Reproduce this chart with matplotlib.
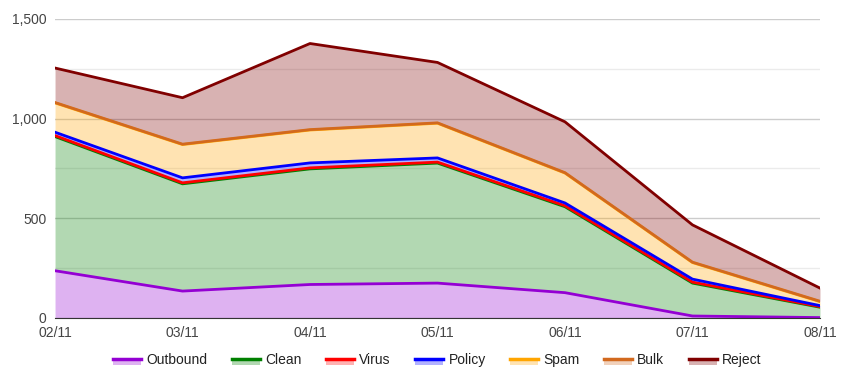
import numpy as np
import matplotlib.pyplot as plt
from matplotlib.legend_handler import HandlerBase
from matplotlib.patches import Rectangle
from matplotlib.lines import Line2D
from matplotlib.ticker import FuncFormatter, MultipleLocator

plt.rcParams['font.family'] = ['Liberation Sans', 'DejaVu Sans']

dates = ['02/11', '03/11', '04/11', '05/11', '06/11', '07/11', '08/11']
series_names = ['Outbound', 'Clean', 'Virus', 'Policy', 'Spam', 'Bulk', 'Reject']
outbound = [237, 135, 168, 175, 127, 10, 2]
clean = [673, 538, 580, 602, 431, 165, 52]
virus = [5, 5, 5, 5, 5, 5, 3]
policy = [17, 25, 25, 21, 14, 15, 5]
spam = [147, 167, 165, 174, 150, 83, 20]
bulk = [2, 2, 2, 2, 2, 2, 2]
reject = [173, 233, 432, 303, 255, 187, 66]
colors = ['#9400D3', '#008000', '#FF0000', '#0000FF', '#FFA500', '#D2691E', '#800000']


class AreaHandler(HandlerBase):
    # legend swatch: light fill with a thick line on top
    def create_artists(self, legend, orig, xd, yd, w, h, fs, trans):
        c = orig.get_color()
        rect = Rectangle((xd, yd - h * 0.1), w, h * 0.6, facecolor=c, alpha=0.3,
                         edgecolor='none', transform=trans)
        line = Line2D([xd, xd + w], [yd + h * 0.5, yd + h * 0.5], color=c,
                      lw=2.5, transform=trans)
        return [rect, line]


fig = plt.figure(figsize=(8.52, 3.76), dpi=100)
ax = fig.add_axes([0.0646, 0.1543, 0.8978, 0.7952])

data = np.array([outbound, clean, virus, policy, spam, bulk, reject])
tops = np.cumsum(data, axis=0)
x = np.arange(len(dates))

bottom = np.zeros(len(dates))
for i in range(len(series_names)):
    ax.fill_between(x, bottom, tops[i], color=colors[i], alpha=0.3, lw=0, zorder=2)
    bottom = tops[i]

handles = []
for i, name in enumerate(series_names):
    h, = ax.plot(x, tops[i], color=colors[i], lw=2, zorder=3, label=name)
    handles.append(h)

ax.set_xlim(0, len(dates) - 1)
ax.set_ylim(0, 1500)
ax.yaxis.set_major_locator(MultipleLocator(500))
ax.yaxis.set_minor_locator(MultipleLocator(250))
ax.yaxis.set_major_formatter(FuncFormatter(lambda v, p: f'{int(v):,}'))
ax.grid(True, which='major', axis='y', color='#cccccc', lw=1, zorder=0)
ax.grid(True, which='minor', axis='y', color='#ebebeb', lw=1, zorder=0)
ax.set_xticks(x)
ax.set_xticklabels(dates)
ax.tick_params(axis='both', which='both', length=0, labelsize=10, colors='#444444')
ax.tick_params(axis='x', pad=6)
ax.tick_params(axis='y', pad=6)
for s in ['left', 'right', 'top']:
    ax.spines[s].set_visible(False)
ax.spines['bottom'].set_color('#333333')
ax.spines['bottom'].set_zorder(4)

ax.legend(handles=handles, handler_map={Line2D: AreaHandler()}, ncol=7,
          loc='upper center', bbox_to_anchor=(0.5, -0.085), frameon=False,
          fontsize=10, handlelength=2.0, handleheight=0.7, columnspacing=1.75,
          handletextpad=0.4, labelcolor='#222222', borderpad=0.2)

fig.savefig('out.png', dpi=100)
